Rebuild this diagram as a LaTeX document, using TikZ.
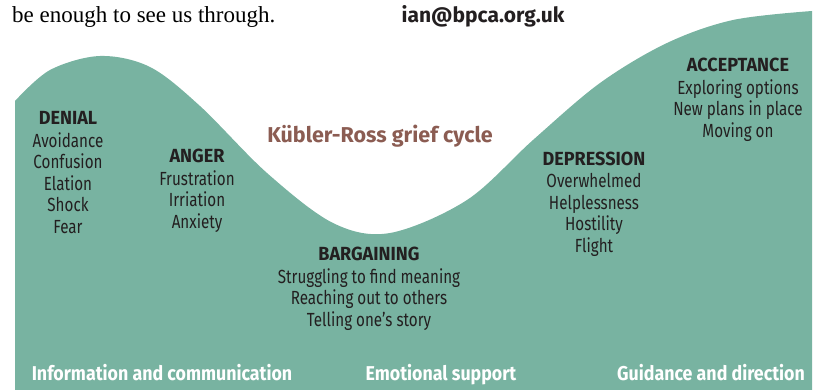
\documentclass[tikz,border=0pt]{standalone}
\usepackage{fontspec}
\setmainfont{Liberation Serif}
\newfontfamily\condfont{Fira Sans}[FakeStretch=0.8]
\newfontfamily\headfont{Fira Sans}[FakeStretch=0.95]
\newfontfamily\footfont{Fira Sans}[FakeStretch=0.89]
\newfontfamily\titlefont{Fira Sans}
\usepackage{tikz}
\usetikzlibrary{positioning}
\definecolor{sage}{RGB}{120, 179, 161}
\definecolor{titlebrown}{RGB}{139, 92, 82}
\definecolor{ink}{RGB}{35, 31, 32}
\tikzset{
    headnode/.style = {draw=none, inner sep=0em, node distance=0em, anchor=base, text=ink,
      font=\headfont\bfseries\fontsize{19}{21}\selectfont},
    listnode/.style = {draw=none, inner sep=0em, node distance=0em, text=ink,
      font=\condfont\fontsize{19}{21.4}\selectfont},
    footnode/.style = {draw=none, inner sep=0em, anchor=base, text=white,
      font=\footfont\bfseries\fontsize{20}{22}\selectfont},
    textnode/.style = {draw=none, inner sep=0em, anchor=base},
    every text node part/.style={align=center}
}

\begin{document}
\begin{tikzpicture}[x=1pt, y=-1pt]
    \useasboundingbox (0,0) rectangle (825,390);

    % the grief curve
    \fill[sage] (15,390) -- plot[smooth, tension=0.55] coordinates {(15,101) (50,70) (100,56) (150,67) (200,106)
      (267,173) (333,223) (390,233) (467,200) (533,140) (600,83) (667,43) (733,20) (812,11)} -- (812,390) -- cycle;

    \node[textnode, name=Through, anchor=base west, font=\fontsize{23}{26}\selectfont] at (12,23) {be enough to see us through.};
    \node[textnode, name=Email, text=ink, font=\titlefont\bfseries\fontsize{21}{24}\selectfont] at (483,23) {ian@bpca.org.uk};
    \node[textnode, name=Title, text=titlebrown, font=\titlefont\bfseries\fontsize{21.5}{24}\selectfont] at (380,143) {Kübler-Ross grief cycle};

    \node[headnode, name=Denial] at (68,125) {DENIAL};
    \node[listnode, name=DenialList, below of=Denial, anchor=north, yshift=-14pt] {Avoidance\\Confusion\\Elation\\Shock\\Fear};

    \node[headnode, name=Anger] at (197,163) {ANGER};
    \node[listnode, name=AngerList, below of=Anger, anchor=north, yshift=-14pt] {Frustration\\Irriation\\Anxiety};

    \node[headnode, name=Bargaining] at (369,261) {BARGAINING};
    \node[listnode, name=BargainingList, below of=Bargaining, anchor=north, yshift=-14pt] {Struggling to find meaning\\Reaching out to others\\Telling one’s story};

    \node[headnode, name=Depression] at (594,166) {DEPRESSION};
    \node[listnode, name=DepressionList, below of=Depression, anchor=north, yshift=-14pt] {Overwhelmed\\Helplessness\\Hostility\\Flight};

    \node[headnode, name=Acceptance] at (738,72) {ACCEPTANCE};
    \node[listnode, name=AcceptanceList, below of=Acceptance, anchor=north, yshift=-14pt] {Exploring options\\New plans in place\\Moving on};

    \node[footnode, name=Info] at (162,380) {Information and communication};
    \node[footnode, name=Emotion] at (441,380) {Emotional support};
    \node[footnode, name=Guidance] at (711,380) {Guidance and direction};
\end{tikzpicture}
\end{document}
